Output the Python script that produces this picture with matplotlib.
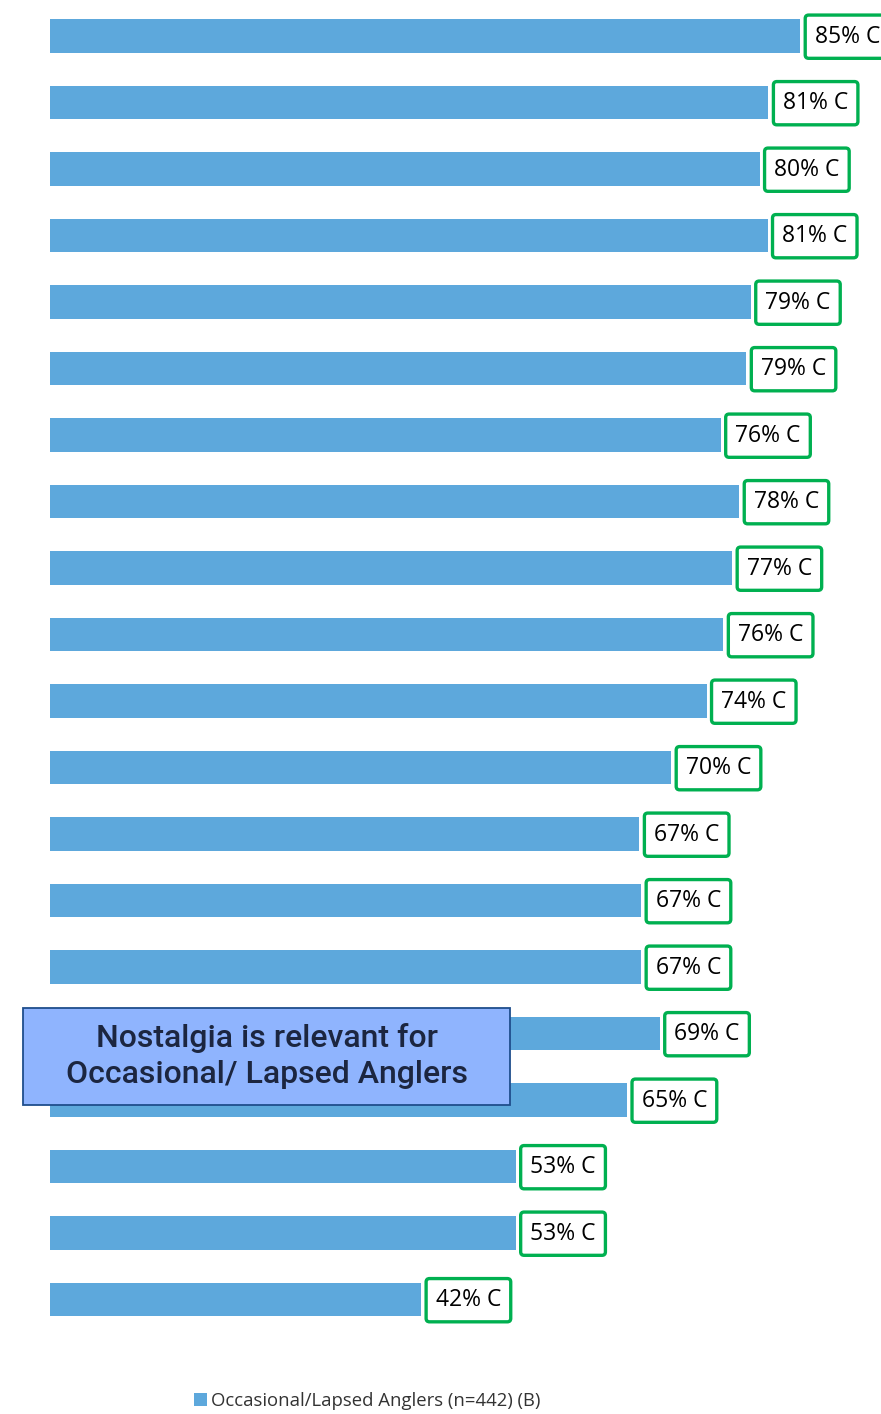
import matplotlib
matplotlib.use("Agg")
import matplotlib.pyplot as plt
from matplotlib.patches import Rectangle, Patch

values = [84.9, 81.3, 80.3, 81.2, 79.3, 78.8, 75.9, 78.0, 77.2, 76.2,
          74.3, 70.3, 66.7, 66.9, 66.9, 69.0, 65.3, 52.7, 52.7, 42.0]
labels = ["85% C", "81% C", "80% C", "81% C", "79% C", "79% C", "76% C", "78% C", "77% C", "76% C",
          "74% C", "70% C", "67% C", "67% C", "67% C", "69% C", "65% C", "53% C", "53% C", "42% C"]
series_name = "Occasional/Lapsed Anglers (n=442) (B)"
callout = "Nostalgia is relevant for\nOccasional/ Lapsed Anglers"

W, H = 881, 1414
fig = plt.figure(figsize=(W / 100, H / 100), dpi=100)
ax = fig.add_axes([50 / W, 1 - 1332.75 / H, 1 - 50 / W, 1330 / H])

y = list(range(len(values)))
ax.barh(y, values, height=0.51, color="#5DA8DC", edgecolor="none")
ax.set_ylim(len(values) - 0.5, -0.5)
ax.set_xlim(0, (W - 50) / 8.837)
ax.axis("off")

for yi, v, lab in zip(y, values, labels):
    ax.annotate(lab, xy=(v, yi), xytext=(10.5, -0.5), textcoords="offset points",
                ha="left", va="center", fontsize=16.5,
                family=["Open Sans", "DejaVu Sans"], color="black",
                bbox=dict(boxstyle="round,pad=0.42,rounding_size=0.15", fc="white",
                          ec="#00B050", lw=2.4),
                annotation_clip=False)

# callout box
rect = Rectangle((23 / W, 1 - 1105 / H), 487 / W, 97 / H, transform=fig.transFigure,
                 facecolor="#8FB4FE", edgecolor="#1F4E8C", linewidth=1.3, zorder=5)
fig.patches.append(rect)
fig.text((23 + 510) / 2 / W, 1 - 1056 / H, callout, ha="center", va="center",
         fontsize=23, family="Roboto", fontweight="medium", color="#1C2640",
         linespacing=1.3, zorder=6)

handle = Patch(facecolor="#5DA8DC", edgecolor="none")
fig.legend([handle], [series_name], loc="center", bbox_to_anchor=(0.417, 1 - 1401 / H),
           frameon=False, handlelength=0.7, handleheight=0.7,
           handletextpad=0.25, prop={"family": "Open Sans", "size": 13.3},
           labelcolor="#333333")

fig.savefig("out.png", dpi=100)
